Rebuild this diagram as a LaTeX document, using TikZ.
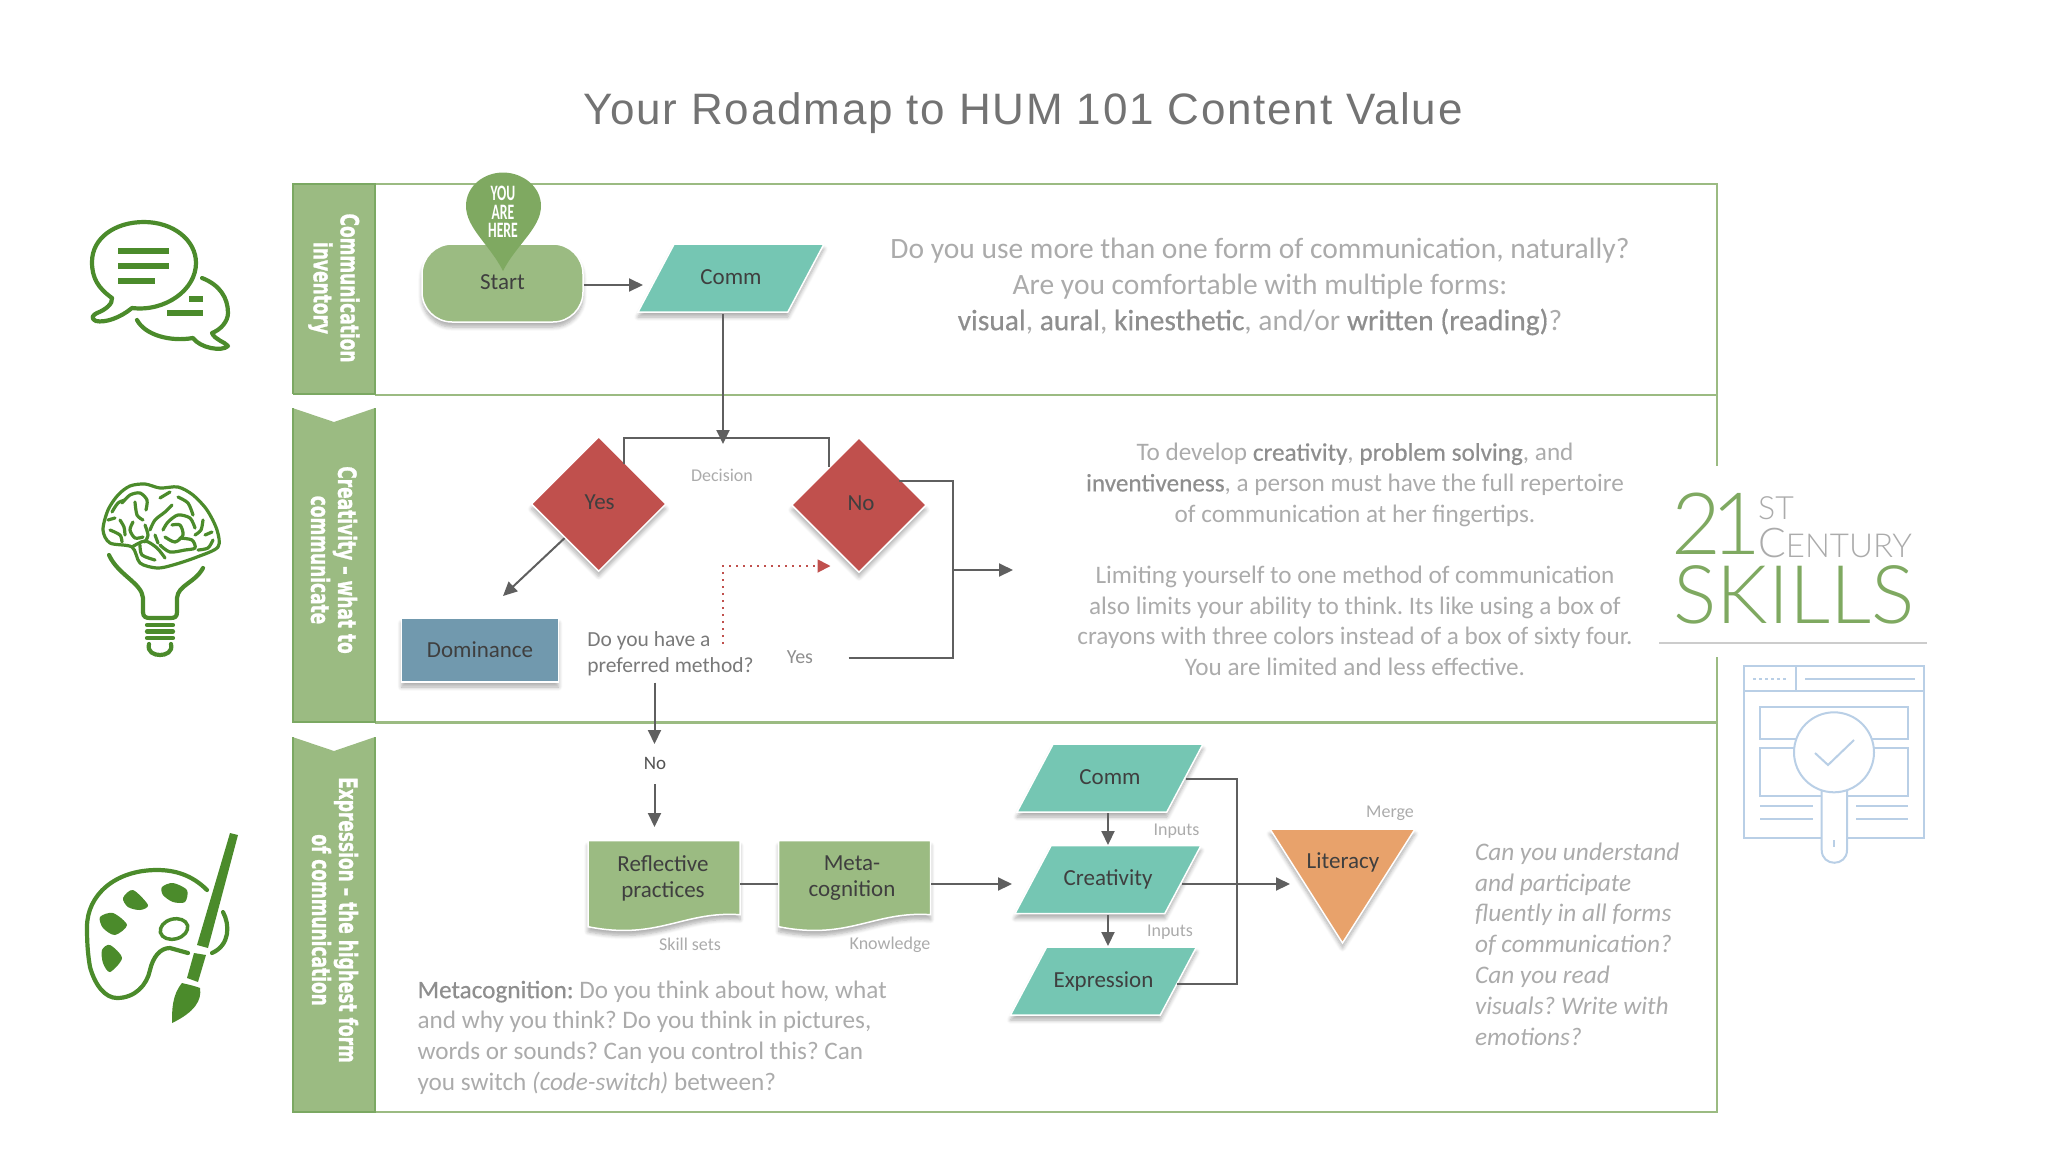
\documentclass[tikz,border=0pt]{standalone}
\usepackage{fontspec}
\usepackage{xcolor}
\usetikzlibrary{arrows.meta,shapes.geometric,shadows.blur}
\setmainfont{Carlito}
\newfontfamily\titlefont[LetterSpace=4]{Liberation Sans}
\newfontfamily\bandfont[BoldFeatures={FakeBold=1.5}]{DejaVu Sans}
\newfontfamily\logofont{Lato Light}
\newfontfamily\hlfont[FakeBold=.5]{Carlito}
\definecolor{lanegreen}{HTML}{9BBB82}
\definecolor{laneedge}{HTML}{7BA862}
\definecolor{pingreen}{HTML}{7FA961}
\definecolor{iconsgreen}{HTML}{4B8B2B}
\definecolor{tealfill}{HTML}{75C6B3}
\definecolor{redfill}{HTML}{C0504D}
\definecolor{bluefill}{HTML}{7199AE}
\definecolor{orangefill}{HTML}{E8A26B}
\definecolor{wiregray}{HTML}{5F5F5F}
\definecolor{softgray}{HTML}{ABABAB}
\definecolor{boldgray}{HTML}{8E8E8E}
\definecolor{inkgray}{HTML}{3F3F3F}
\definecolor{iconblue}{HTML}{B9CFE6}
\newcommand{\hl}[1]{\textcolor{boldgray}{\hlfont #1}}
\newcommand{\squeeze}[1]{\scalebox{.68}[1]{#1}}
\newcommand{\px}[2]{\fontsize{#1}{#2}\selectfont}
\begin{document}
\frenchspacing
\begin{tikzpicture}[x=1pt, y=-1pt,
        softshadow/.style={blur shadow={shadow xshift=0pt, shadow yshift=-5pt, shadow blur steps=6, shadow blur radius=4pt, shadow opacity=32}},
        lane/.style={draw=lanegreen, line width=2.5pt},
        lanehead/.style={fill=lanegreen},
        laneside/.style={draw=laneedge, line width=2pt},
        lanetext/.style={rotate=-90, align=center, text=white, font=\bandfont\bfseries\px{25}{27}},
        terminal/.style={draw=white, line width=1.5pt, fill=lanegreen, rounded corners=30pt, minimum width=161pt, minimum height=78pt, text=inkgray, font=\px{23}{28}, softshadow},
        dataio/.style={trapezium, trapezium left angle=62, trapezium right angle=118, trapezium stretches body=true, draw=white, line width=1.5pt, fill=tealfill, minimum width=186pt, text height=15pt, text depth=3pt, inner ysep=25pt, inner xsep=0pt, text=inkgray, font=\px{23}{28}, softshadow},
        decide/.style={diamond, draw=white, line width=1.5pt, fill=redfill, minimum width=135pt, minimum height=135pt, inner sep=0pt, text=inkgray, font=\px{23}{28}, softshadow},
        plainbox/.style={draw=white, line width=1.5pt, fill=bluefill, minimum width=157pt, minimum height=64pt, text=inkgray, font=\px{23}{28}, softshadow},
        docshape/.style={draw=white, line width=1.5pt, fill=lanegreen, softshadow},
        doctext/.style={align=center, text=inkgray, font=\px{23}{26}},
        mergeshape/.style={draw=white, line width=1.5pt, fill=orangefill, softshadow},
        note/.style={align=center, text=softgray},
        tinylabel/.style={text=softgray, font=\px{18}{20}},
        asktext/.style={align=left, text=boldgray!85!black, font=\px{21.5}{26}},
        logotext/.style={inner sep=0pt},
        flow/.style={-{Triangle[length=14pt, width=13pt]}, line width=2pt, wiregray},
        wire/.style={line width=2pt, wiregray},
        hint/.style={-{Triangle[length=13pt, width=13pt]}, line width=1.8pt, redfill, dash pattern=on 2pt off 5pt},
        iconline/.style={draw=iconsgreen, line width=4.2pt, line cap=round, line join=round},
        iconbar/.style={draw=iconsgreen, line width=6pt},
        brainline/.style={draw=iconsgreen, line width=3.2pt, line cap=round, line join=round},
        checkline/.style={draw=iconblue, line width=2pt}
    ]
        \useasboundingbox (0,0) rectangle (2048,1152);

        \node[font=\titlefont\px{44}{50}, text=black!55] (title) at (1023,113) {Your Roadmap to HUM 101 Content Value};

        \draw[lane] (375,184) -- (1717,184) -- (1717,466);
        \draw[lane] (1717,657) -- (1717,1112) -- (375,1112);
        \draw[lane] (375,395) -- (1717,395);
        \draw[lane] (375,722.5) -- (1717,722.5);

        \fill[lanehead] (292.5,184) -- (375,184) -- (375,394) -- (292.5,394) -- cycle;
        \fill[lanehead] (292.5,408) -- (334,422) -- (375,408) -- (375,722) -- (292.5,722) -- cycle;
        \fill[lanehead] (292.5,737) -- (334,751) -- (375,737) -- (375,1112) -- (292.5,1112) -- cycle;
        \draw[laneside] (292.5,394) -- (292.5,184) -- (375,184) -- (375,394) -- (292.5,394);
        \draw[laneside] (292.5,408) -- (292.5,722) -- (375,722) -- (375,408);
        \draw[laneside] (292.5,737) -- (292.5,1112) -- (375,1112) -- (375,737);
        \node[lanetext] (lane1) at (334,288) {\squeeze{Communication}\\\squeeze{inventory}};
        \node[lanetext] (lane2) at (334,560) {\squeeze{Creativity – what to}\\\squeeze{communicate}};
        \node[lanetext] (lane3) at (335,920) {\squeeze{Expression – the highest form}\\\squeeze{of communication}};

        \node[terminal] (start) at (502.5,283) {\raisebox{1pt}{Start}};
        \node[dataio] (commtop) at (731,278) {Comm};
        \fill[pingreen] (503,271) .. controls (490,245) and (466,228) .. (466,206) .. controls (466,186) and (484,172.5) .. (503,172.5) .. controls (522,172.5) and (541,186) .. (541,206) .. controls (541,228) and (516,245) .. (503,271) -- cycle;
        \node[align=center, text=white, font=\bfseries\px{22}{18.5}] (pin) at (503,212) {\scalebox{.62}[1]{YOU}\\\scalebox{.62}[1]{ARE}\\\scalebox{.62}[1]{HERE}};

        \node[note, font=\px{29.5}{36}] (asktop) at (1260,286.5) {Do you use more than one form of communication, naturally?\\Are you comfortable with multiple forms:\\\hl{visual}, \hl{aural}, \hl{kinesthetic}, and/or \hl{written (reading)}?};

        \node[decide] (yesdec) at (598.7,504) {\raisebox{3pt}{\kern2pt Yes}};
        \node[decide] (nodec) at (859,505) {\raisebox{3pt}{\kern4pt No}};
        \node[tinylabel] (decision) at (722,475) {Decision};
        \node[plainbox] (dominance) at (480,650) {Dominance};
        \node[asktext] (prefer) at (670.5,654) {Do you have a\\preferred method?};
        \node[text=boldgray, font=\px{20}{24}] (noyes) at (800,657.5) {Yes};
        \node[text=inkgray!90, font=\px{19}{24}] (nolabel) at (655,763.5) {No};

        \coordinate (commin) at (643,285);
        \coordinate (split) at (723,444);
        \coordinate (yesin) at (624,464);
        \coordinate (noin) at (829.4,467);
        \coordinate (domin) at (503,596);
        \coordinate (noout) at (899,480.5);
        \coordinate (nomerge) at (953,570);
        \coordinate (noend) at (1013,570);
        \coordinate (hintfrom) at (723,644);
        \coordinate (hintto) at (830.5,566);

        \draw[flow] ([yshift=-2pt]start.east) -- (commin);
        \draw[flow] (723,314) -- (split);
        \draw[wire] (yesin) -- (624,437.5) -- (829.4,437.5) -- (noin);
        \draw[flow] (yesdec.south west) -- (domin);
        \draw[wire, shorten <=32pt] (noyes.east) -- (953,657.5) -- (953,480.5) -- (noout);
        \draw[flow] (nomerge) -- (noend);
        \draw[hint] (hintfrom) -- (723,566) -- (hintto);
        \draw[flow] (654.5,682.5) -- (654.5,744);
        \draw[flow] (654.5,784) -- (654.5,827);

        \node[note, font=\px{25.2}{30.7}] (askmid) at (1355,559.5) {To develop \hl{creativity}, \hl{problem solving}, and\\\hl{inventiveness}, a person must have the full repertoire\\of communication at her fingertips.\\[30.7pt]Limiting yourself to one method of communication\\also limits your ability to think. Its like using a box of\\crayons with three colors instead of a box of sixty four.\\You are limited and less effective.};

        \foreach \docx in {588,778.7} {
            \begin{scope}[shift={(\docx,840.7)}]
                \draw[docshape] (0,0) -- (152,0) -- (152,74) .. controls (95,70) and (70,100) .. (0,86) -- cycle;
            \end{scope}
        }
        \node[doctext] (reflect) at (663,878) {Reflective\\practices};
        \node[doctext] (meta) at (852,878) {Meta-\\cognition};
        \node[tinylabel] (skills) at (690,944.5) {Skill sets};
        \node[tinylabel] (knowledge) at (890,944.5) {Knowledge};
        \coordinate (reflectout) at (740,884);
        \coordinate (metain) at (778,884);
        \draw[wire] (reflectout) -- (metain);
        \coordinate (metaout) at (931,884);
        \coordinate (creatin) at (1012,884);
        \draw[flow] (metaout) -- (creatin);

        \node[dataio] (commlow) at (1110,778) {Comm};
        \node[dataio] (creat) at (1108,879.5) {Creativity};
        \node[dataio] (express) at (1103.5,981) {Expression};
        \node[tinylabel] (inputsa) at (1176.5,831) {Inputs};
        \node[tinylabel] (inputsb) at (1170,932) {Inputs};
        \draw[flow] (1108,813) -- (1108,845);
        \draw[flow] (1108,915) -- (1108,946);

        \draw[mergeshape] (1270,829) -- (1415,829) -- (1342.5,943) -- cycle;
        \node[text=inkgray, font=\px{23}{28}] (literacy) at (1343,862) {Literacy};
        \node[tinylabel] (merge) at (1390,813) {Merge};
        \coordinate (mergejoin) at (1237,884);
        \coordinate (mergein) at (1290,884);
        \draw[wire] (1185.5,779) -- (1237,779) -- (1237,984) -- (1177,984);
        \draw[wire] (1182,884) -- (mergejoin);
        \draw[flow] (mergejoin) -- (mergein);

        \node[align=left, text=softgray, anchor=west, font=\itshape\px{25.3}{30.8}] (askright) at (1471.5,944) {Can you understand\\and participate\\fluently in all forms\\of communication?\\Can you read\\visuals? Write with\\emotions?};
        \node[align=left, text=softgray, anchor=west, font=\px{25.2}{30.7}] (askmeta) at (414,1037.5) {\hl{Metacognition:} Do you think about how, what\\and why you think? Do you think in pictures,\\words or sounds? Can you control this? Can\\you switch \textit{(code-switch)} between?};

        \draw[iconline] (112,298) .. controls (98,288) and (92,278) .. (92,262) .. controls (92,238) and (115,222) .. (144,222) .. controls (173,222) and (196,240) .. (196,263) .. controls (196,290) and (165,312) .. (132,308) .. controls (120,318) and (105,323) .. (96,321) .. controls (90,318) and (93,315) .. (97,313) .. controls (105,310) and (113,304) .. (112,298);
        \draw[iconline] (202,278) .. controls (220,285) and (228,298) .. (228,313) .. controls (228,322) and (220,330) .. (212,333) .. controls (215,340) and (225,342) .. (228,346) .. controls (222,352) and (200,348) .. (193,338) .. controls (170,342) and (145,335) .. (137,320);
        \draw[iconbar] (118,250.7) -- (169,250.7);
        \draw[iconbar] (118,265.7) -- (169,265.7);
        \draw[iconbar] (118,280.7) -- (155,280.7);
        \draw[iconbar] (189,299) -- (203,299);
        \draw[iconbar] (167,313) -- (203,313);

        \draw[brainline] plot[smooth cycle] coordinates {(103,530) (108,510) (118,495) (130,486) (145,484) (160,488) (178,487) (193,495) (207,510) (217,530) (218,547) (197,557) (173,565) (157,568) (140,563) (132,547) (110,543)};
        \foreach \squig in {{(122,503) (130,495) (140,493) (147,500) (146,510)}, {(135,502) (137,515) (143,520)}, {(112,512) (118,503) (125,500)}, {(120,520) (124,527) (125,535)}, {(108,520) (115,518)}, {(133,522) (130,530) (135,538) (143,537)}, {(145,525) (148,535) (145,542)}, {(150,530) (155,520) (165,512) (172,505)}, {(160,498) (170,492)}, {(178,497) (188,503) (193,515)}, {(163,530) (168,522) (178,515) (190,518) (195,528)}, {(172,525) (180,525) (183,535) (175,542) (165,537)}, {(155,535) (158,543)}, {(195,535) (201,530) (203,520)}, {(198,550) (208,548) (213,540)}, {(205,535) (212,532)}, {(160,545) (170,552) (185,550) (195,548) (192,540) (180,538)}, {(140,545) (142,555) (155,560)}, {(110,530) (120,535) (122,542)}, {(132,547) (145,541) (157,548) (165,558)}} {
            \draw[brainline] plot[smooth] coordinates {\squig};
        }
        \draw[iconline] (109,555) .. controls (118,575) and (142,583) .. (143,598) -- (143,612) .. controls (143,617) and (146,618) .. (150,618) -- (170,618) .. controls (175,618) and (177,617) .. (177,612) -- (177,598) .. controls (178,585) and (195,583) .. (203,568);
        \draw[iconline] (147,625) -- (173,625);
        \draw[iconline] (147,631.5) -- (173,631.5);
        \draw[iconline] (147,638) -- (173,638);
        \draw[iconline] (149,644) .. controls (147,652) and (154,655) .. (160,655) .. controls (166,655) and (173,652) .. (171,644);

        \draw[iconline] (207,890) .. controls (192,875) and (175,870) .. (157,870) .. controls (115,870) and (87,895) .. (87,927) .. controls (87,945) and (88,955) .. (90,967) .. controls (95,985) and (105,998) .. (117,998) .. controls (135,998) and (147,985) .. (150,970) .. controls (153,957) and (160,948) .. (170,948) -- (188,953);
        \draw[iconline] (223,912) .. controls (230,925) and (230,945) .. (212,953);
        \fill[iconsgreen] plot[smooth cycle] coordinates {(162,887) (173,883) (187,890) (185,902) (173,902) (163,895)};
        \fill[iconsgreen] plot[smooth cycle] coordinates {(123,898) (133,890) (148,905) (140,910) (128,907)};
        \fill[iconsgreen] plot[smooth cycle] coordinates {(100,917) (113,913) (127,925) (115,935) (103,928)};
        \fill[iconsgreen] plot[smooth cycle] coordinates {(102,950) (110,945) (122,958) (110,972) (103,963)};
        \draw[iconsgreen, line width=3.5pt, rotate around={15:(174,929)}] (174,929) ellipse [x radius=14, y radius=10];
        \fill[iconsgreen] (230,833) -- (238,835) -- (208,948) -- (197,945) -- cycle;
        \fill[iconsgreen] (194,953) -- (206,955) -- (198,982) -- (187,978) -- cycle;
        \fill[iconsgreen] (182,983) .. controls (190,985) and (195,986) .. (200,988) .. controls (202,1000) and (195,1012) .. (172,1023) .. controls (172,1010) and (172,995) .. (182,983) -- cycle;

        \node[logotext, text=pingreen, font=\logofont\px{86}{86}, anchor=west] (logo21) at (1671,524) {2\kern-10pt 1};
        \node[logotext, text=softgray, font=\logofont\px{32}{32}, anchor=west] (logost) at (1758,508) {ST};
        \node[logotext, text=softgray, font=\logofont\px{33}{33}, anchor=west] (logocent) at (1758,543) {{\px{41}{41}C}ENTURY};
        \node[logotext, text=pingreen, font=\logofont\px{81}{81}, anchor=center] (logoskills) at (1794,595) {SKILLS};
        \draw[line width=2pt, black!20] (1659,642.7) -- (1927,642.7);

        \draw[checkline] (1744,666) rectangle (1924,837.7);
        \draw[checkline] (1744,691) -- (1924,691);
        \draw[checkline] (1795.7,666) -- (1795.7,691);
        \draw[checkline, dashed] (1753,679) -- (1788,679);
        \draw[checkline] (1805,679) -- (1915,679);
        \draw[checkline] (1760,707) rectangle (1907.7,739);
        \draw[checkline] (1760,747.7) rectangle (1907.7,796);
        \draw[checkline] (1760,805.7) -- (1813,805.7);
        \draw[checkline] (1760,819) -- (1813,819);
        \draw[checkline] (1856,805.7) -- (1907.7,805.7);
        \draw[checkline] (1856,819) -- (1907.7,819);
        \draw[checkline, fill=white] (1821.7,790) -- (1821.7,850) .. controls (1821.7,867) and (1847,867) .. (1847,850) -- (1847,790) -- cycle;
        \draw[checkline, fill=white] (1834,752.3) circle [radius=40];
        \draw[checkline] (1834,840) -- (1834,847);
        \draw[checkline] (1815,753) -- (1828,765) -- (1854,740);
    \end{tikzpicture}
\end{document}
